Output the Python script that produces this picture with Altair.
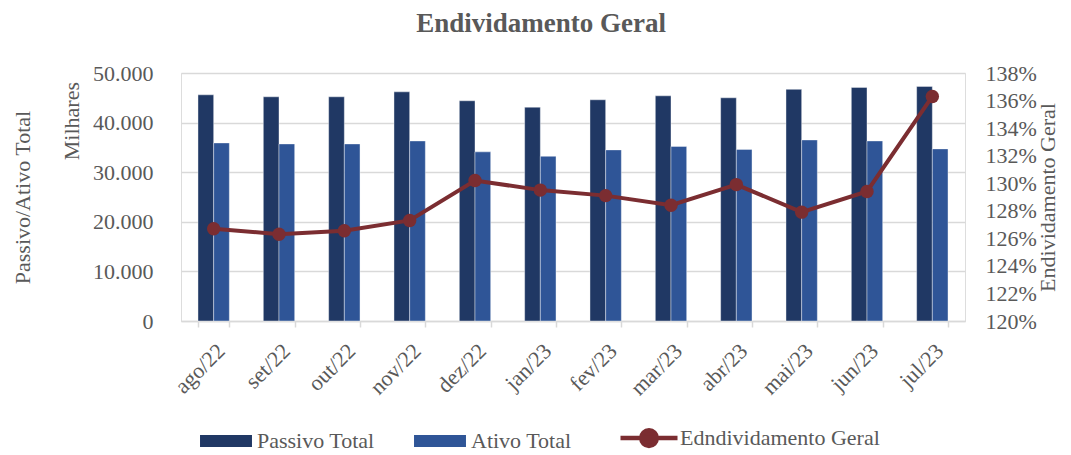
import altair as alt
import pandas as pd

months = ["ago/22", "set/22", "out/22", "nov/22", "dez/22", "jan/23",
          "fev/23", "mar/23", "abr/23", "mai/23", "jun/23", "jul/23"]
passivo = [45600, 45200, 45200, 46200, 44400, 43100, 44600, 45400, 45000, 46700, 47100, 47300]
ativo = [35900, 35700, 35700, 36300, 34100, 33200, 34500, 35200, 34600, 36500, 36300, 34700]
endiv = [1.267, 1.263, 1.2655, 1.273, 1.302, 1.295, 1.291, 1.284, 1.299, 1.279, 1.294, 1.363]

series = ["Passivo Total", "Ativo Total", "Edndividamento Geral"]
colors = ["#203864", "#2F5597", "#7B2D31"]

bars_df = pd.DataFrame({
    "mes": months * 2,
    "serie": [series[0]] * len(months) + [series[1]] * len(months),
    "valor": passivo + ativo,
})
line_df = pd.DataFrame({"mes": months, "serie": series[2], "valor": endiv})
unit_df = pd.DataFrame({"t": ["Milhares"]})

FONT = "Liberation Serif"
GREY = "#595959"
FS = 22
LINE_PATH = "M-4.75,0H4.75M1.3,0A1.3,1.3,0,1,1,-1.3,0A1.3,1.3,0,1,1,1.3,0Z"
BAR_PATH = "M0,-1.7M0,1.7M-4.33,-1H4.33V1H-4.33Z"
IS_LINE = f"datum.value === '{series[2]}'"

color = alt.Color(
    "serie:N",
    scale=alt.Scale(domain=series, range=colors),
    legend=alt.Legend(
        orient="none", legendX=20, legendY=354, direction="horizontal", title=None,
        symbolSize=144, symbolOffset=14, labelOffset=20, columnPadding=39,
        labelFontSize=FS, labelColor=GREY, labelFont=FONT, padding=0, labelLimit=400,
        symbolType={"expr": f"{IS_LINE} ? '{LINE_PATH}' : '{BAR_PATH}'"},
        symbolStrokeWidth={"expr": f"{IS_LINE} ? 4.5 : 0"},
        symbolFillColor={"expr": "scale('color', datum.value)"},
        symbolStrokeColor={"expr": "scale('color', datum.value)"},
        symbolOpacity=1,
    ),
)

x = alt.X(
    "mes:N", sort=months, title=None,
    scale=alt.Scale(paddingInner=0.52, paddingOuter=0.26),
    axis=alt.Axis(labelAngle=315, labelFontSize=FS, labelColor=GREY, labelFont=FONT,
                  domainColor="#d9d9d9", domainWidth=1.5, tickColor="#d9d9d9",
                  tickWidth=1.5, tickSize=6, tickBand="extent", labelPadding=13,
                  grid=False),
)

bars = alt.Chart(bars_df).mark_bar(stroke="#ffffff", strokeWidth=0.8, strokeOpacity=0.5).encode(
    x=x,
    xOffset=alt.XOffset("serie:N", sort=series[:2], scale=alt.Scale(paddingInner=0)),
    y=alt.Y("valor:Q", title="Passivo/Ativo Total",
            scale=alt.Scale(domain=[0, 50000]),
            axis=alt.Axis(values=[0, 10000, 20000, 30000, 40000, 50000],
                          labelExpr="replace(format(datum.value, ','), ',', '.')",
                          labelFontSize=FS, labelColor=GREY, labelFont=FONT,
                          ticks=False, domain=False, labelPadding=28,
                          grid=True, gridColor="#d9d9d9", gridWidth=1.5,
                          titleFontSize=FS, titleColor=GREY, titleFont=FONT,
                          titleFontWeight="normal", titleAngle=270,
                          titleX=-159, titleBaseline="middle")),
    color=color,
)

unit = alt.Chart(unit_df).mark_text(
    angle=270, align="right", baseline="middle", fontSize=FS, color=GREY, font=FONT
).encode(x=alt.value(-109), y=alt.value(9), text="t:N")

yr = alt.Y("valor:Q", title="Endividamento Geral",
           scale=alt.Scale(domain=[1.20, 1.38]),
           axis=alt.Axis(orient="right", format=".0%",
                         values=[1.20, 1.22, 1.24, 1.26, 1.28, 1.30, 1.32, 1.34, 1.36, 1.38],
                         labelFontSize=FS, labelColor=GREY, labelFont=FONT,
                         ticks=False, domain=False, labelPadding=20, grid=False,
                         titleFontSize=FS, titleColor=GREY, titleFont=FONT,
                         titleFontWeight="normal", titleAngle=270,
                         titleX=82, titleBaseline="middle"))

line = alt.Chart(line_df).mark_line(strokeWidth=4).encode(x=x, y=yr, color=color)
points = alt.Chart(line_df).mark_point(filled=True, size=180, opacity=1).encode(x=x, y=yr, color=color)

left = alt.layer(bars, unit)
right = alt.layer(line, points)

chart = alt.layer(left, right).resolve_scale(y="independent").properties(
    width=784, height=248,
    autosize=alt.AutoSizeParams(type="none"),
    padding={"left": 173, "top": 65, "right": 98, "bottom": 134},
    title=alt.TitleParams("Endividamento Geral", fontSize=27, font=FONT, fontWeight="bold",
                          color=GREY, anchor="middle", dx=-32, offset=24),
).configure_view(stroke=None).configure(font=FONT, background="white")

chart.save("out.html", embed_options={"renderer": "svg", "actions": False})
